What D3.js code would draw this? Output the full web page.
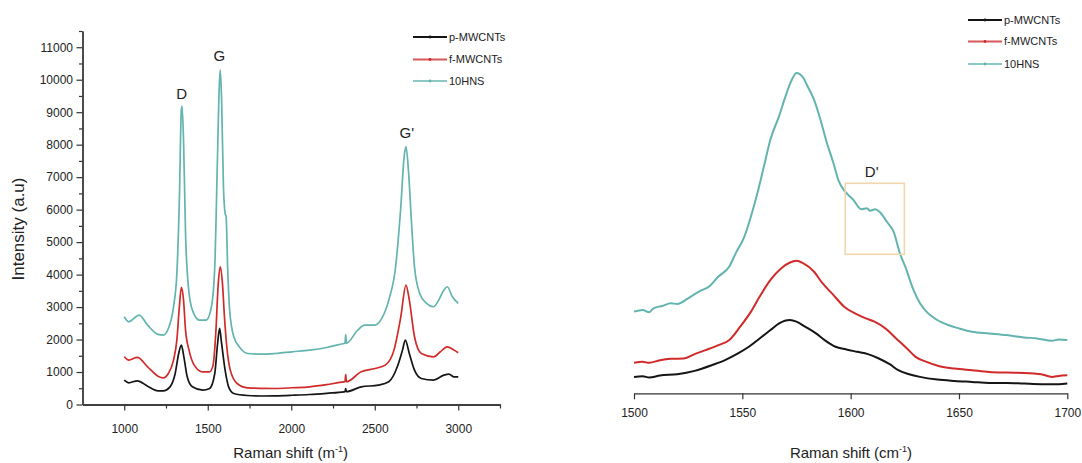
<!DOCTYPE html>
<html>
<head>
<meta charset="utf-8">
<script src="https://cdn.jsdelivr.net/npm/d3@7"></script>
<style>
  html, body { margin: 0; padding: 0; background: #fff; }
  svg { display: block; font-family: Arial, "Liberation Sans", sans-serif; }
</style>
</head>
<body>
<svg id="chart" width="1082" height="463"></svg>
<script>
// ---- Full-range Raman spectra: [Raman shift, intensity] ----
const pFull = [[1000,750],[1027,668],[1078,729],[1140,565],[1202,421],[1233,421],[1274,544],[1305,955],[1326,1571],[1342,1828],[1357,1469],[1377,852],[1408,544],[1470,442],[1511,493],[1542,955],[1559,1879],[1571,2342],[1583,1879],[1604,1058],[1625,544],[1656,339],[1738,277],[1821,262],[1903,267],[2006,285],[2109,308],[2212,345],[2316,390],[2322,395],[2326,493],[2330,395],[2419,544],[2522,596],[2584,698],[2635,1160],[2666,1674],[2683,1982],[2707,1571],[2738,1058],[2779,801],[2852,750],[2914,904],[2944,935],[2975,852],[3000,852]];
const fFull = [[1000,1469],[1027,1366],[1078,1448],[1140,1160],[1202,873],[1233,822],[1264,955],[1295,1366],[1315,1982],[1330,3009],[1342,3605],[1355,3214],[1367,2290],[1388,1674],[1419,1212],[1470,1006],[1511,1006],[1532,1212],[1548,2188],[1563,3728],[1575,4241],[1588,3728],[1600,2701],[1614,1777],[1635,1058],[1676,647],[1738,514],[1821,498],[1903,493],[2006,515],[2109,544],[2212,610],[2316,698],[2322,700],[2326,920],[2330,700],[2419,1006],[2501,1109],[2563,1212],[2615,1674],[2656,2701],[2687,3677],[2707,3214],[2738,2085],[2779,1571],[2852,1469],[2893,1623],[2934,1777],[2975,1674],[3000,1592]];
const hnsFull = [[1000,2700],[1027,2547],[1089,2750],[1140,2444],[1202,2157],[1233,2136],[1264,2342],[1295,3009],[1315,4036],[1330,6296],[1342,9070],[1346,9190],[1355,8144],[1367,5268],[1384,3625],[1408,2906],[1450,2598],[1491,2598],[1522,3009],[1542,4241],[1557,7322],[1569,9787],[1575,10300],[1583,9376],[1594,6706],[1604,5885],[1610,5782],[1619,4241],[1631,2906],[1656,2085],[1697,1725],[1738,1571],[1821,1550],[1903,1571],[2006,1623],[2109,1674],[2212,1756],[2316,1879],[2322,1885],[2326,2150],[2330,1885],[2398,2290],[2439,2444],[2501,2444],[2542,2650],[2584,3214],[2625,4241],[2656,6090],[2676,7630],[2687,7939],[2703,7117],[2718,5782],[2738,4241],[2769,3420],[2810,3112],[2852,3009],[2883,3214],[2914,3522],[2934,3625],[2965,3317],[3000,3112]];

// ---- G-band region (1500–1700 cm-1) ----
const pZoom = [[1500,528],[1504,549],[1507,506],[1512,571],[1520,614],[1528,722],[1536,905],[1542,1066],[1548,1282],[1553,1497],[1558,1766],[1563,2036],[1567,2251],[1572,2359],[1575,2305],[1579,2143],[1584,1928],[1588,1712],[1593,1497],[1598,1411],[1603,1335],[1608,1260],[1613,1120],[1618,937],[1622,743],[1627,614],[1632,528],[1640,442],[1648,398],[1656,366],[1664,334],[1672,334],[1680,312],[1688,291],[1696,291],[1700,312]];
const fZoom = [[1500,980],[1504,1012],[1507,980],[1512,1066],[1517,1109],[1523,1120],[1528,1260],[1533,1389],[1539,1551],[1544,1712],[1549,2143],[1554,2628],[1558,3113],[1563,3651],[1568,4028],[1572,4211],[1575,4265],[1578,4190],[1583,3920],[1587,3543],[1592,3166],[1597,2789],[1602,2574],[1607,2412],[1611,2305],[1616,2089],[1621,1766],[1626,1443],[1630,1174],[1635,1012],[1641,872],[1648,797],[1656,743],[1664,689],[1672,668],[1680,657],[1688,614],[1693,528],[1696,560],[1700,582]];
const hnsZoom = [[1500,2628],[1504,2682],[1507,2606],[1509,2736],[1513,2811],[1517,2897],[1520,2876],[1525,3059],[1530,3274],[1535,3457],[1539,3759],[1544,4082],[1547,4513],[1551,5051],[1554,5697],[1557,6451],[1560,7313],[1563,8174],[1567,8928],[1570,9575],[1573,10113],[1575,10307],[1578,10167],[1580,9898],[1583,9467],[1586,8821],[1589,8067],[1592,7421],[1594.5,6828],[1597.5,6489],[1601,6244],[1605,5922],[1607.5,5954],[1609,5877],[1611.3,5922],[1613.3,5845],[1616.7,5523],[1619.8,5201],[1622.9,4474],[1625.2,4075],[1629,3328],[1632,2897],[1635,2628],[1640,2359],[1645,2197],[1650,2089],[1656,1982],[1664,1928],[1672,1874],[1680,1799],[1686,1766],[1693,1691],[1696,1734],[1700,1712]];

// ---- Labels and ticks ----
const seriesNames = ["p-MWCNTs", "f-MWCNTs", "10HNS"];
const seriesColors = ["#151515", "#d12a2a", "#63b3ae"];
const legendColors = ["#151515", "#d8585a", "#8cc9c5"];
const fullXTicks = [1000, 1500, 2000, 2500, 3000];
const fullXMinor = [1250, 1750, 2250, 2750, 3250];
const fullYTicks = [0,1000,2000,3000,4000,5000,6000,7000,8000,9000,10000,11000];
const fullYMinor = [500,1500,2500,3500,4500,5500,6500,7500,8500,9500,10500,11500];
const zoomXTicks = [1500, 1550, 1600, 1650, 1700];
const peakLabels = [
  { text: "D",  shift: 1344, intensity: 9420 },
  { text: "G",  shift: 1570, intensity: 10590 },
  { text: "G'", shift: 2692, intensity: 8220 }
];
const shoulderLabel = { text: "D'", shift: 1609.7, intensity: 6960 };
const shoulderBox = { x0: 1597.5, x1: 1624.8, y0: 4474, y1: 6759 };

const svg = d3.select("#chart");
const axisColor = "#333";

function styleAxis(g) {
  g.selectAll(".domain").attr("stroke", axisColor).attr("stroke-width", 1.3);
  g.selectAll(".tick line").attr("stroke", axisColor).attr("stroke-width", 1.2);
  g.selectAll(".tick text").attr("fill", "#222").style("font-size", "12px")
    .style("font-family", "Arial, 'Liberation Sans', sans-serif");
}

function drawLegend(g, x0, x1, rows) {
  seriesNames.forEach((name, i) => {
    const y = rows[i];
    g.append("line").attr("x1", x0).attr("x2", x1).attr("y1", y).attr("y2", y)
      .attr("stroke", legendColors[i]).attr("stroke-width", 2.2);
    g.append("circle").attr("cx", (x0 + x1) / 2).attr("cy", y).attr("r", 1.4)
      .attr("fill", seriesColors[i]);
    g.append("text").attr("x", x1 + 2).attr("y", y).attr("dy", "0.35em")
      .style("font-size", "11px").attr("fill", "#222").text(name);
  });
}

function axisTitle(g, x, y, unit) {
  const t = g.append("text").attr("x", x).attr("y", y).attr("text-anchor", "middle")
    .style("font-size", "15px").attr("fill", "#222");
  t.append("tspan").text("Raman shift (" + unit);
  t.append("tspan").attr("dy", -6).style("font-size", "9px").text("-1");
  t.append("tspan").attr("dy", 6).text(")");
}

// ================= Full spectrum =================
const xFull = d3.scaleLinear().domain([750, 3250]).range([82.5, 500]);
const yFull = d3.scaleLinear().domain([0, 11500]).range([404.5, 31]);
const left = svg.append("g");

left.append("g").attr("transform", `translate(0,${yFull(0)})`)
  .call(d3.axisBottom(xFull).tickValues(fullXMinor).tickSize(4).tickSizeOuter(0).tickFormat(""))
  .call(styleAxis);
left.append("g").attr("transform", `translate(0,${yFull(0)})`)
  .call(d3.axisBottom(xFull).tickValues(fullXTicks).tickSize(6).tickSizeOuter(0).tickPadding(14).tickFormat(d3.format("d")))
  .call(styleAxis);
left.append("g").attr("transform", `translate(${xFull(750)},0)`)
  .call(d3.axisLeft(yFull).tickValues(fullYMinor).tickSize(3.5).tickSizeOuter(0).tickFormat(""))
  .call(styleAxis);
left.append("g").attr("transform", `translate(${xFull(750)},0)`)
  .call(d3.axisLeft(yFull).tickValues(fullYTicks).tickSize(6).tickSizeOuter(0).tickPadding(3.5).tickFormat(d3.format("d")))
  .call(styleAxis);

const lineFull = d3.line().x(d => xFull(d[0])).y(d => yFull(d[1])).curve(d3.curveMonotoneX);
[pFull, fFull, hnsFull].forEach((s, i) => {
  left.append("path").datum(s).attr("d", lineFull).attr("fill", "none")
    .attr("stroke", seriesColors[i]).attr("stroke-width", 1.7).attr("stroke-linejoin", "round");
});

peakLabels.forEach(p => {
  left.append("text").attr("x", xFull(p.shift)).attr("y", yFull(p.intensity))
    .attr("text-anchor", "middle").style("font-size", "15px").attr("fill", "#222").text(p.text);
});

left.append("text").attr("transform", "translate(24,229) rotate(-90)")
  .attr("text-anchor", "middle").style("font-size", "17px").attr("fill", "#222")
  .text("Intensity (a.u)");
axisTitle(left, 290.6, 458, "m");
drawLegend(left.append("g"), 413, 447, [37, 59.5, 81]);

// ================= G-band region =================
const xZoom = d3.scaleLinear().domain([1500, 1700]).range([634, 1067.3]);
const yZoom = d3.scaleLinear().domain([0, 11500]).range([393.3, 36]);
const right = svg.append("g");

right.append("g").attr("transform", `translate(0,${yZoom(0)})`)
  .call(d3.axisBottom(xZoom).tickValues(zoomXTicks).tickSize(6).tickSizeOuter(0).tickPadding(9.5).tickFormat(d3.format("d")))
  .call(styleAxis);

const lineZoom = d3.line().x(d => xZoom(d[0])).y(d => yZoom(d[1])).curve(d3.curveMonotoneX);
[pZoom, fZoom, hnsZoom].forEach((s, i) => {
  right.append("path").datum(s).attr("d", lineZoom).attr("fill", "none")
    .attr("stroke", seriesColors[i]).attr("stroke-width", 2).attr("stroke-linejoin", "round");
});

right.append("rect")
  .attr("x", xZoom(shoulderBox.x0)).attr("y", yZoom(shoulderBox.y1))
  .attr("width", xZoom(shoulderBox.x1) - xZoom(shoulderBox.x0))
  .attr("height", yZoom(shoulderBox.y0) - yZoom(shoulderBox.y1))
  .attr("fill", "none").attr("stroke", "#efd6ad").attr("stroke-width", 1.6);
right.append("text").attr("x", xZoom(shoulderLabel.shift)).attr("y", yZoom(shoulderLabel.intensity))
  .attr("text-anchor", "middle").style("font-size", "15px").attr("fill", "#222").text(shoulderLabel.text);

axisTitle(right, 851, 458, "cm");
drawLegend(right.append("g"), 968, 1002, [20, 41.5, 64]);
</script>
</body>
</html>
